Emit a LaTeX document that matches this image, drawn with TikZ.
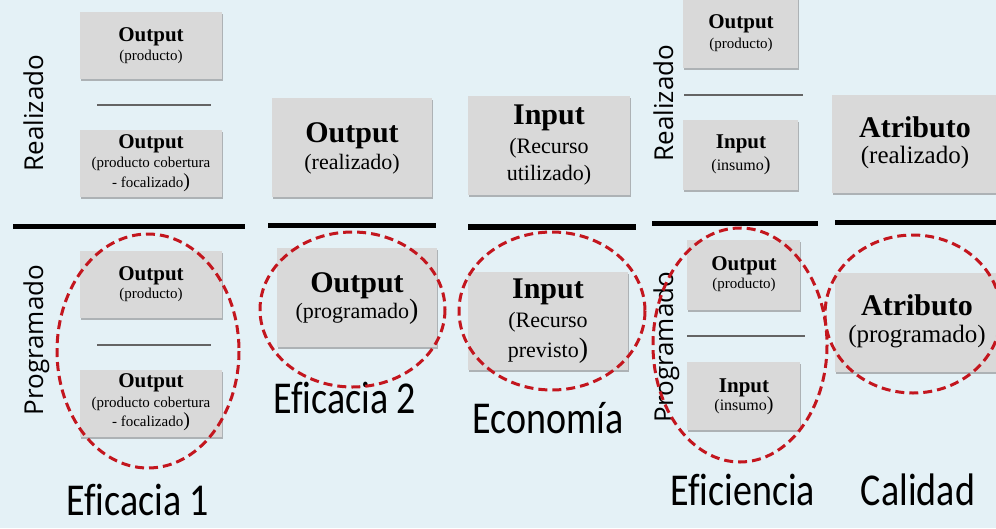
\documentclass[tikz,border=0pt]{standalone}
\usepackage{fontspec}
\setmainfont{Liberation Serif}
\newfontfamily\sidefont{Open Sans}
\newfontfamily\labfont[Ligatures=NoCommon]{Carlito}
\usetikzlibrary{shadows}
\definecolor{bg}{RGB}{228,241,246}
\definecolor{boxgray}{RGB}{217,217,217}
\definecolor{dashred}{RGB}{195,22,30}
\definecolor{sepgray}{RGB}{100,100,100}
\tikzset{
  box/.style={fill=boxgray, inner sep=0pt, draw=none,
    drop shadow={shadow xshift=0.8pt, shadow yshift=-2pt, fill=black!50, opacity=0.55}},
  tb/.style={anchor=base, inner sep=0pt, font=\fontsize{#1}{#1}\selectfont\bfseries},
  tr/.style={anchor=base, inner sep=0pt, font=\fontsize{#1}{#1}\selectfont},
  side/.style={anchor=base, rotate=90, inner sep=0pt, font=\sidefont\fontsize{26}{26}\selectfont},
  lab/.style={anchor=base, inner sep=0pt, font=\labfont\fontsize{38}{38}\selectfont},
  blackline/.style={line width=5pt, black},
  grayline/.style={line width=2.5pt, sepgray},
  ring/.style={draw=dashred, line width=3pt, dash pattern=on 9pt off 5pt}
}
\newcommand\mkbox[5]{\node[box, minimum width={#4-#2}, minimum height={#5-#3}] (#1) at ({(#2+#4)/2},{(#3+#5)/2}) {};}
\begin{document}
\begin{tikzpicture}[x=1pt,y=-1pt]
\useasboundingbox (0,0) rectangle (996,528);
\fill[bg] (0,0) rectangle (996,528);
\clip (0,0) rectangle (996,528);

% ---------- Column 1: Eficacia 1
\mkbox{c1a}{80}{12}{222}{79}
\node[tb=21] (c1at) at (151,41) {Output};
\node[tr=15] (c1as) at (151,60) {(producto)};
\draw[grayline] (97,105) -- (211,105);
\mkbox{c1b}{80}{130}{222}{197}
\node[tb=21] (c1bt) at (151,148) {Output};
\node[tr=15] (c1bs) at (151,167) {(producto cobertura};
\node[tr=15] (c1bu) at (151,187) {- focalizado{\fontsize{20}{20}\selectfont)}};
\draw[blackline] (13,226) -- (245,226);
\mkbox{c1c}{80}{251}{222}{318}
\node[tb=21] (c1ct) at (151,280) {Output};
\node[tr=15] (c1cs) at (151,298) {(producto)};
\draw[grayline] (97,345) -- (211,345);
\mkbox{c1d}{80}{370}{222}{437}
\node[tb=21] (c1dt) at (151,387) {Output};
\node[tr=15] (c1ds) at (151,407) {(producto cobertura};
\node[tr=15] (c1du) at (151,426) {- focalizado{\fontsize{20}{20}\selectfont)}};
\node[side] (r1) at (43,113) {Realizado};
\node[side] (p1) at (43,340) {Programado};
\node[lab] (l1) at (138,515) {\scalebox{1}[1.2]{Eficacia 1}};

% ---------- Column 2: Eficacia 2
\mkbox{c2a}{272}{98}{432}{197}
\node[tb=30] (c2at) at (352,142) {Output};
\node[tr=22] (c2as) at (352,169) {(realizado)};
\draw[blackline] (268,225) -- (436,225);
\mkbox{c2b}{277}{248}{437}{347}
\node[tb=30] (c2bt) at (357,292) {Output};
\node[tr=22] (c2bs) at (357,318) {(programado{\fontsize{28}{28}\selectfont)}};
\node[lab] (l2) at (345,413) {\scalebox{1}[1.2]{Eficacia 2}};

% ---------- Column 3: Economia
\mkbox{c3a}{468}{96}{630}{195}
\node[tb=30] (c3at) at (549,124) {Input};
\node[tr=22] (c3as) at (549,153) {(Recurso};
\node[tr=22] (c3au) at (549,180) {utilizado)};
\draw[blackline, line width=6pt] (468,227) -- (636,227);
\mkbox{c3b}{468}{272}{628}{370}
\node[tb=30] (c3bt) at (548,298) {Input};
\node[tr=22] (c3bs) at (548,327) {(Recurso};
\node[tr=22] (c3bu) at (548,357) {previsto{\fontsize{28}{28}\selectfont)}};
\node[lab] (l3) at (548,433) {\scalebox{1}[1.2]{Economía}};

% ---------- Column 4: Eficiencia
\mkbox{c4a}{683}{-4}{798}{68}
\node[tb=21] (c4at) at (741,28) {Output};
\node[tr=15] (c4as) at (741,48) {(producto)};
\draw[grayline] (684,95) -- (803,95);
\mkbox{c4b}{683}{120}{798}{190}
\node[tb=21] (c4bt) at (741,148) {Input};
\node[tr=16] (c4bs) at (741,170) {(insumo{\fontsize{20}{20}\selectfont)}};
\draw[blackline] (652,223) -- (818,223);
\mkbox{c4c}{687}{240}{800}{310}
\node[tb=21] (c4ct) at (744,270) {Output};
\node[tr=15] (c4cs) at (744,288) {(producto)};
\draw[grayline] (687,336) -- (805,336);
\mkbox{c4d}{687}{362}{800}{430}
\node[tb=21] (c4dt) at (744,392) {Input};
\node[tr=16] (c4ds) at (744,410) {(insumo{\fontsize{20}{20}\selectfont)}};
\node[side] (r4) at (673,103) {Realizado};
\node[side] (p4) at (673,347) {Programado};
\node[lab] (l4) at (743,505) {\scalebox{1}[1.2]{Eficiencia}};

% ---------- Column 5: Calidad
\mkbox{c5a}{832}{95}{1000}{193}
\node[tb=30] (c5at) at (915,137) {Atributo};
\node[tr=25] (c5as) at (915,163) {(realizado)};
\draw[blackline] (835,222) -- (1000,222);
\mkbox{c5b}{835}{273}{1000}{372}
\node[tb=30] (c5bt) at (917,315) {Atributo};
\node[tr=25] (c5bs) at (917,342) {(programado)};
\node[lab] (l5) at (918,505) {\scalebox{1}[1.2]{Calidad}};

% ---------- Dashed ellipses
\draw[ring] (148,351) ellipse [x radius=91, y radius=117];
\draw[ring] (352.5,309.5) ellipse [x radius=92.5, y radius=77.5];
\draw[ring] (552,311) ellipse [x radius=93, y radius=79];
\draw[ring] (740,345) ellipse [x radius=87, y radius=117];
\draw[ring] (913,314) ellipse [x radius=88, y radius=79];
\end{tikzpicture}
\end{document}
